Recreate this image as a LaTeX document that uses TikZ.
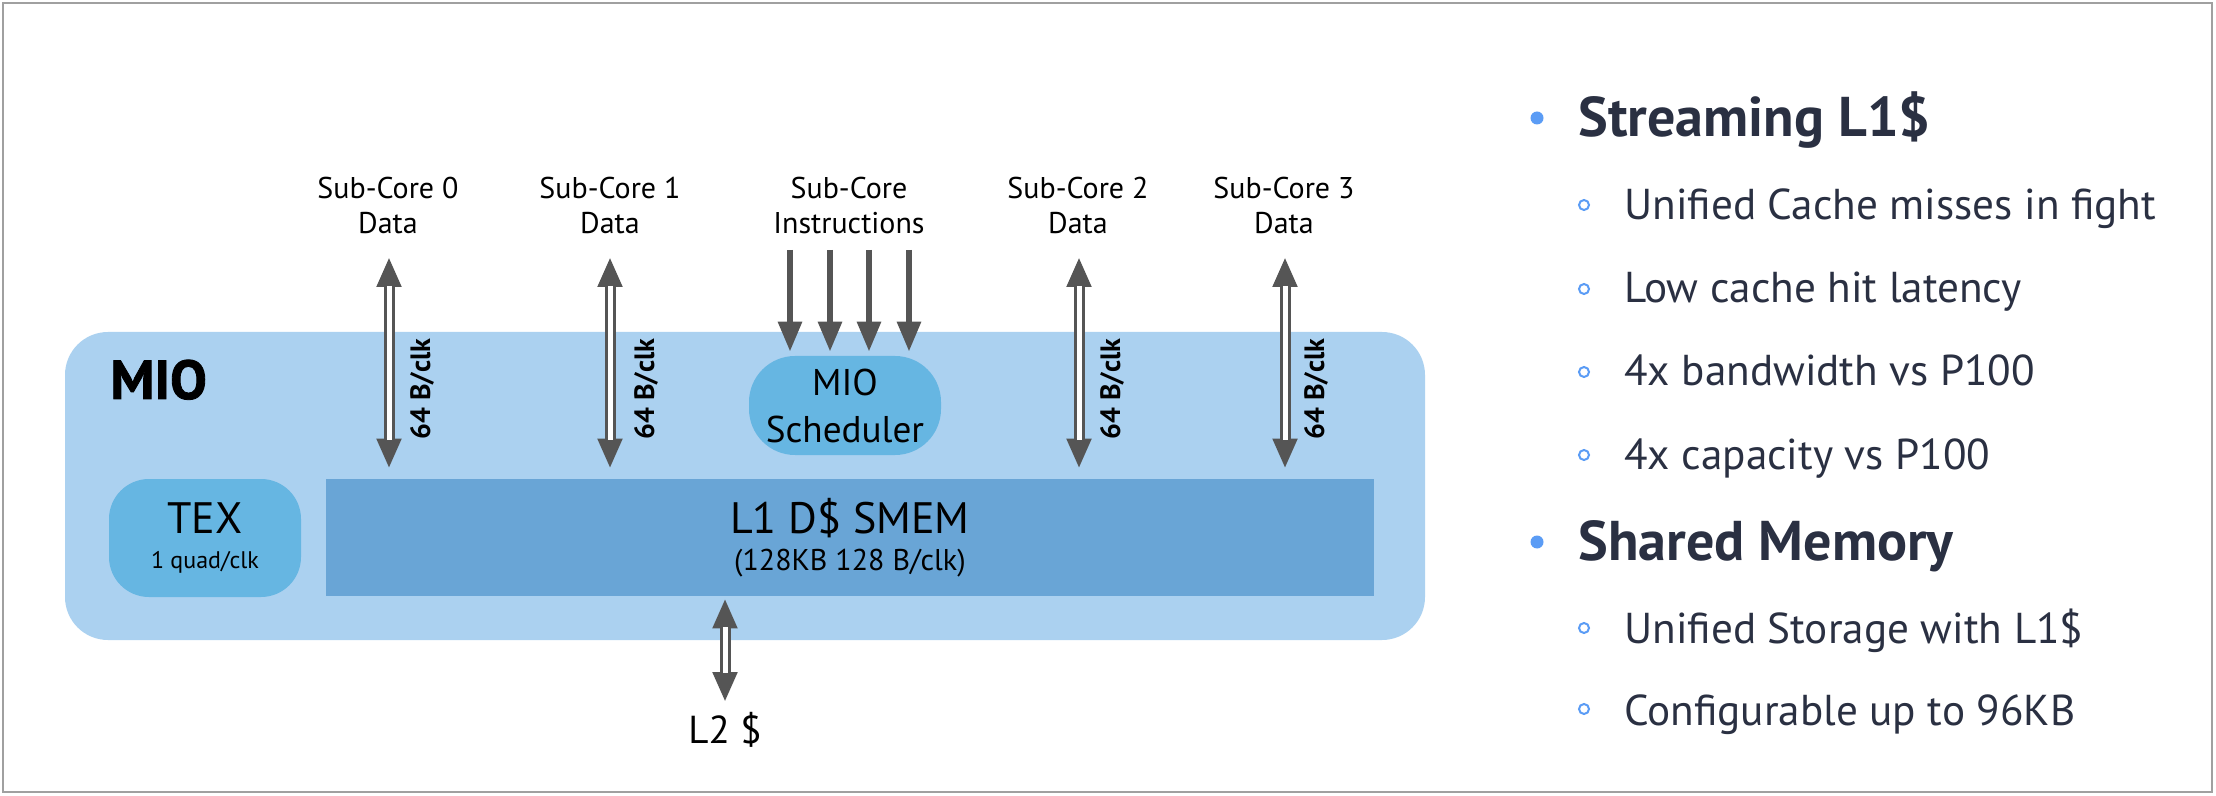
\documentclass[tikz,border=0pt]{standalone}
\usepackage{fontspec}
\setmainfont{PT Sans}
\newfontfamily\miofont[FakeBold=1.5]{PT Sans Bold}
\usetikzlibrary{arrows.meta}
\definecolor{mioblue}{HTML}{ABD1F0}
\definecolor{l1blue}{HTML}{69A5D6}
\definecolor{unitblue}{HTML}{66B6E2}
\definecolor{arrowgray}{HTML}{555555}
\definecolor{navy}{HTML}{2A3042}
\definecolor{bulletblue}{HTML}{5B9CF5}
\definecolor{framegray}{HTML}{A0A0A0}
\begin{document}
\begin{tikzpicture}[x=0.5pt,y=-0.5pt,
  miobox/.style={fill=mioblue, rounded corners=21.5pt, minimum width=680pt, minimum height=154pt, inner sep=0pt},
  l1box/.style={fill=l1blue, minimum width=524pt, minimum height=58.5pt, inner sep=0pt, align=center},
  unitbox/.style={fill=unitblue, minimum width=96pt, inner sep=0pt, align=center},
  lab/.style={align=center, font=\fontsize{15}{17.5}\selectfont, inner sep=0pt},
  bw/.style={rotate=90, font=\bfseries\fontsize{14}{17}\selectfont, inner sep=0pt},
  dblout/.style={draw=arrowgray, line width=5.5pt, {Triangle[length=15pt,width=11.5pt]}-{Triangle[length=15pt,width=11.5pt]}},
  dblin/.style={draw=white, line width=2.5pt, shorten <=14.5pt, shorten >=14.5pt},
  instr/.style={draw=arrowgray, line width=3pt, -{Triangle[length=15pt,width=11.5pt]}},
  headtxt/.style={anchor=base west, inner sep=0pt, text=navy, font=\bfseries\fontsize{28}{32}\selectfont},
  itemtxt/.style={anchor=base west, inner sep=0pt, text=navy, font=\fontsize{21.6}{26}\selectfont},
  bdot/.style={circle, fill=bulletblue, minimum size=6.5pt, inner sep=0pt},
  bring/.style={circle, draw=bulletblue, line width=1pt, minimum size=5pt, inner sep=0pt},
]
\useasboundingbox (0,0) rectangle (2216,796);
\fill[white] (0,0) rectangle (2216,796);
\draw[framegray, line width=1.2pt] (3,3) rectangle (2212,792);

% MIO block
\node[miobox] (mio) at (745,486) {};
\node[anchor=base west, inner sep=0pt, font=\miofont\fontsize{27.5}{30}\selectfont] (miolab) at (110,399) {MIO};
\node[l1box, font=\fontsize{22}{18.5}\selectfont] (l1) at (850,537.5) {L1 D\$ SMEM\\{\fontsize{15}{18.5}\selectfont (128KB 128 B/clk)}};
\node[unitbox, rounded corners=20pt, minimum height=59pt, font=\fontsize{22}{17.5}\selectfont] (tex) at (205,538) {TEX\\{\fontsize{12}{17.5}\selectfont 1 quad/clk}};
\node[unitbox, rounded corners=23pt, minimum height=49.5pt, font=\fontsize{18.6}{23.5}\selectfont] (sched) at (845,405.5) {MIO\\Scheduler};

% labels
\node[lab] (sc0) at (388,206) {Sub-Core 0\\Data};
\node[lab] (sc1) at (610,206) {Sub-Core 1\\Data};
\node[lab] (sci) at (849,206) {Sub-Core\\Instructions};
\node[lab] (sc2) at (1078,206) {Sub-Core 2\\Data};
\node[lab] (sc3) at (1284,206) {Sub-Core 3\\Data};

% data arrows
\foreach \n/\x in {0/389,1/610,2/1079,3/1285}{
  \coordinate (t\n) at (\x,257);
  \coordinate (b\n) at ([yshift=5pt]t\n |- l1.north);
  \draw[dblout] (t\n) -- (b\n);
  \draw[dblin] (t\n) -- (b\n);
}
\node[bw] (bw0) at (422,389) {64 B/clk};
\node[bw] (bw1) at (646,389) {64 B/clk};
\node[bw] (bw2) at (1112,389) {64 B/clk};
\node[bw] (bw3) at (1316,389) {64 B/clk};

% instruction arrows
\foreach \n/\x in {0/790,1/830,2/869,3/909}{
  \coordinate (i\n) at (\x,250);
  \draw[instr, shorten >=2pt] (i\n) -- (i\n |- sched.north);
}

% L2
\node[inner sep=0pt, font=\fontsize{19.5}{21}\selectfont] (l2) at (725,730) {L2 \$};
\coordinate (l2t) at ([yshift=-1pt]l2.north |- l1.south);
\coordinate (l2b) at ([yshift=5pt]l2.north);
\draw[dblout] (l2t) -- (l2b);
\draw[dblin] (l2t) -- (l2b);

% right text
\node[bdot] (d1) at (1537,118) {};
\node[headtxt] (h1) at (1578,137) {Streaming L1\$};
\node[bring] (r1) at (1584,205) {};
\node[itemtxt] (s1) at (1624,220) {Unified Cache misses in fight};
\node[bring] (r2) at (1584,289) {};
\node[itemtxt] (s2) at (1624,303) {Low cache hit latency};
\node[bring] (r3) at (1584,372) {};
\node[itemtxt] (s3) at (1624,386) {4x bandwidth vs P100};
\node[bring] (r4) at (1584,455) {};
\node[itemtxt] (s4) at (1624,469) {4x capacity vs P100};
\node[bdot] (d2) at (1537,542) {};
\node[headtxt] (h2) at (1578,560) {Shared Memory};
\node[bring] (r5) at (1584,628) {};
\node[itemtxt] (s5) at (1624,643) {Unified Storage with L1\$};
\node[bring] (r6) at (1584,709) {};
\node[itemtxt] (s6) at (1624,725) {Configurable up to 96KB};
\end{tikzpicture}
\end{document}
